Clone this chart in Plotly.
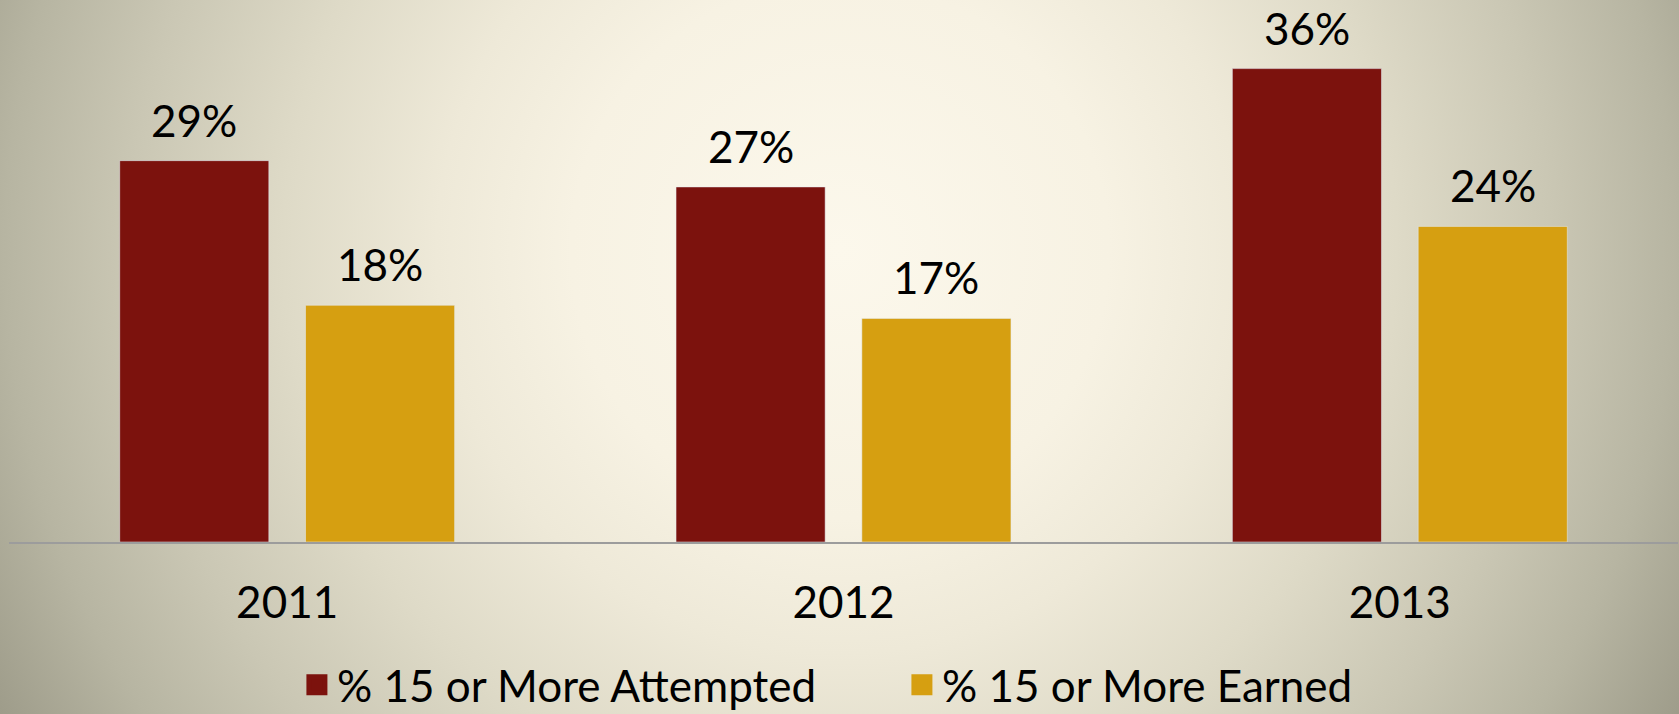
import base64
import plotly.graph_objects as go

# ---- data ----
years = ["2011", "2012", "2013"]
attempted = [29, 27, 36]
earned = [18, 17, 24]
series_names = ["% 15 or More Attempted", "% 15 or More Earned"]

# ---- style ----
W, H = 1679, 714
ML, MR, MT, MB = 9, 1, 16, 172
FONT = "Lato, 'Open Sans', sans-serif"
FS = 44
C_ATT = "#7C120D"
C_EARN = "#D69F11"
BAR_W = 0.268      # bar width in category units
BAR_GAP = 0.066    # gap between the two bars of a group
LABEL_SHIFT = 13   # px between bar top and label box

# radial background as an SVG image
svg = f"""<svg xmlns='http://www.w3.org/2000/svg' width='{W}' height='{H}' viewBox='0 0 {W} {H}' preserveAspectRatio='none'>
<defs><radialGradient id='g' gradientUnits='userSpaceOnUse' cx='840' cy='250' r='960'>
<stop offset='0' stop-color='#FCF8EC'/>
<stop offset='0.28' stop-color='#F7F2E3'/>
<stop offset='0.42' stop-color='#EEE9D8'/>
<stop offset='0.58' stop-color='#DEDAC7'/>
<stop offset='0.74' stop-color='#CAC7B4'/>
<stop offset='0.87' stop-color='#B7B5A2'/>
<stop offset='1' stop-color='#9E9C8A'/>
</radialGradient></defs>
<rect x='0' y='0' width='{W}' height='{H}' fill='url(#g)'/></svg>"""
src = "data:image/svg+xml;base64," + base64.b64encode(svg.encode()).decode()

pw = W - ML - MR
ph = H - MT - MB

offsets = [-(BAR_W + BAR_GAP / 2), BAR_GAP / 2]
colors = [C_ATT, C_EARN]
values = [attempted, earned]

fig = go.Figure()
annotations = []
for k in range(2):
    fig.add_trace(go.Bar(
        x=years, y=values[k], name=series_names[k], marker_color=colors[k],
        width=BAR_W, offset=offsets[k], showlegend=False, hoverinfo="skip"))
    for i, v in enumerate(values[k]):
        annotations.append(dict(
            x=i + offsets[k] + BAR_W / 2, y=v, xref="x", yref="y",
            text=f"{v}%", showarrow=False, yanchor="bottom", yshift=LABEL_SHIFT,
            font=dict(family=FONT, size=FS, color="black")))
    # legend entry with a larger square swatch
    fig.add_trace(go.Scatter(
        x=[None], y=[None], mode="markers", name=series_names[k],
        marker=dict(symbol="square", size=16, color=colors[k],
                    line=dict(color=colors[k], width=5)),
        hoverinfo="skip"))

fig.update_layout(
    width=W, height=H,
    margin=dict(l=ML, r=MR, t=MT, b=MB, pad=0, autoexpand=False),
    paper_bgcolor="#D8D3C1", plot_bgcolor="rgba(0,0,0,0)",
    font=dict(family=FONT, size=FS, color="black"),
    showlegend=True,
    legend=dict(orientation="h", x=0.535, xanchor="center", y=-0.272, yanchor="middle",
                bgcolor="rgba(0,0,0,0)", font=dict(family=FONT, size=FS, color="black"),
                entrywidth=560, entrywidthmode="pixels", itemsizing="trace"),
    xaxis=dict(type="category", range=[-0.5, 2.5], showline=True, linecolor="#9C9C9C",
               linewidth=2, showgrid=False, ticks="", ticklabelstandoff=21,
               tickfont=dict(family=FONT, size=FS, color="black"), zeroline=False),
    yaxis=dict(range=[0, 40], visible=False, showgrid=False, zeroline=False),
    annotations=annotations,
    images=[dict(source=src, xref="paper", yref="paper",
                 x=-ML / pw, y=1 + MT / ph, sizex=W / pw, sizey=H / ph,
                 xanchor="left", yanchor="top", sizing="stretch", layer="below")],
)

fig.write_html("out.html")
